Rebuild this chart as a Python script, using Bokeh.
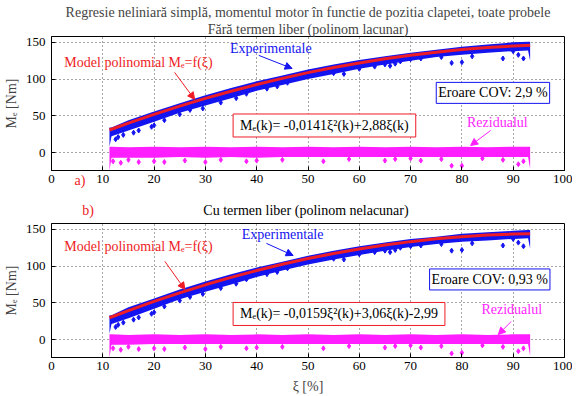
from bokeh.plotting import figure
from bokeh.layouts import column
from bokeh.models import (Label, Arrow, NormalHead, FixedTicker, Range1d, Title, Div)
from bokeh.embed import file_html
from bokeh.resources import INLINE

# ---------------- data ----------------
x_ticks = [0, 10, 20, 30, 40, 50, 60, 70, 80, 90, 100]
y_ticks = [0, 50, 100, 150]

# envelope of the experimental scatter band (xi [%])
band_x = [11.3, 11.7, 15, 20, 25, 30, 35, 40, 45, 50, 55, 60, 65, 70, 75, 80, 85, 90, 92.9, 93.3]

# plot a) (no free term)
exp_hi_a = [34, 34, 44, 56, 67, 78, 88, 97, 105, 113, 120, 126, 131, 136, 140, 144, 147, 150, 151, 151]
exp_lo_a = [8, 22, 30, 42, 54, 64, 74, 84, 92, 100, 107, 114, 120, 125, 130, 133, 136, 138, 139, 125]
res_hi_a = [8, 8, 7, 8, 7, 8, 7, 8, 7, 8, 7, 8, 7, 8, 7, 8, 7, 8, 8, 8]
res_lo_a = [-25, -7, -7, -7, -6, -7, -6, -7, -6, -6, -6, -6, -6, -6, -6, -6, -6, -6, -6, -22]
fit_x = [11.3, 15, 20, 25, 30, 35, 40, 45, 50, 55, 60, 65, 70, 75, 80, 85, 90, 93.3]
fit_a = [30.7, 40.0, 52.0, 63.2, 73.7, 83.5, 92.6, 101.0, 108.8, 115.7, 122.0, 127.6,
         132.5, 136.7, 140.2, 142.9, 145.0, 146.0]
out_x_a = [12.5, 13, 14, 16, 17, 19.5, 20, 22, 25, 27, 29.5, 33, 36, 38, 42, 44, 46, 55, 57,
           60, 63, 65, 66, 67, 68, 70, 72, 76, 78, 80, 82, 88, 90, 91, 92]
out_y_a = [18, 21, 24, 27, 30, 35, 37, 44, 52, 58, 60, 68, 74, 80, 87, 90, 95, 108, 107,
           114, 117, 120, 118, 121, 124, 127, 128, 130, 122, 123, 131, 128, 138, 133, 128]
rout_x_a = [12, 13.5, 15, 17, 20, 22, 26, 30, 33, 38, 40, 45, 53, 58, 65, 67, 70, 72, 76,
            78, 80, 84, 88, 91, 92]
rout_y_a = [-12, -14, -10, -13, -12, -13, -11, -13, -10, -12, -11, -10, -12, -9, -11, -9,
            -8, -11, -9, -18, -18, -8, -10, -16, -12]

# plot b) (with free term)
exp_hi_b = [33, 33, 44, 56, 68, 79, 89, 98, 106, 114, 121, 127, 132, 137, 140, 144, 146, 148, 149, 149]
exp_lo_b = [8, 21, 29, 42, 55, 65, 75, 85, 94, 102, 109, 115, 121, 126, 130, 133, 135, 137, 138, 124]
res_hi_b = [7, 7, 6, 7, 6, 7, 6, 7, 6, 7, 6, 7, 6, 7, 6, 7, 6, 7, 7, 7]
res_lo_b = [-25, -7, -7, -6, -6, -6, -6, -6, -6, -6, -6, -6, -6, -6, -6, -6, -6, -6, -6, -22]
fit_b = [29.6, 39.3, 51.9, 63.6, 74.5, 84.6, 94.0, 102.5, 110.3, 117.2, 123.4, 128.7,
         133.3, 137.1, 140.0, 142.2, 143.6, 144.1]
out_x_b = [12.5, 13, 14, 16, 17, 19.5, 20, 22, 25, 27, 29.5, 33, 36, 38, 42, 44, 46, 55, 57,
           60, 63, 65, 66, 67, 68, 70, 72, 76, 78, 80, 82, 88, 90, 91, 92]
out_y_b = [17, 20, 23, 27, 30, 35, 37, 45, 53, 58, 62, 70, 76, 82, 89, 92, 97, 110, 109,
           116, 119, 121, 119, 122, 125, 127, 128, 130, 121, 122, 131, 128, 137, 132, 127]
rout_x_b = [12, 13.5, 15, 17, 20, 22, 26, 30, 33, 38, 40, 45, 53, 58, 65, 67, 70, 72, 76,
            78, 80, 84, 88, 91, 92]
rout_y_b = [-12, -14, -10, -13, -12, -13, -11, -13, -10, -12, -11, -10, -12, -9, -11, -9,
            -8, -11, -9, -19, -18, -8, -10, -16, -12]

title_1 = "Regresie neliniară simplă, momentul motor în functie de pozitia clapetei, toate probele"
title_2 = "Fără termen liber (polinom lacunar)"
title_3 = "Cu termen liber (polinom nelacunar)"
tag_a = "a)"
tag_b = "b)"
eq_a = "Mₑ(k)= -0,0141ξ²(k)+2,88ξ(k)"
eq_b = "Mₑ(k)= -0,0159ξ²(k)+3,06ξ(k)-2,99"
cov_a = "Eroare COV: 2,9 %"
cov_b = "Eroare COV: 0,93 %"

FONT = "Liberation Serif"
FS = "14px"
BLUE = "#1414f0"
MAG = "#ff1eff"
RED = "#ee1c24"


def base_fig(height, top, bottom, xlabel):
    p = figure(width=572, height=height, output_backend="svg", toolbar_location=None,
               x_range=Range1d(0, 100), y_range=Range1d(-24.5, 158),
               min_border_left=44, min_border_right=8, min_border_top=top,
               min_border_bottom=bottom)
    p.title = None
    p.outline_line_color = "black"
    p.outline_line_width = 1
    p.background_fill_color = "white"
    for ax in list(p.xaxis) + list(p.yaxis):
        ax.major_tick_in = 4
        ax.major_tick_out = 0
        ax.minor_tick_line_color = None
        ax.axis_line_color = "black"
        ax.major_label_text_font = FONT
        ax.major_label_text_font_size = "13px"
        ax.major_label_text_color = "black"
        ax.axis_label_text_font = FONT
        ax.axis_label_text_font_size = FS
        ax.axis_label_text_font_style = "normal"
    p.xaxis.ticker = FixedTicker(ticks=x_ticks)
    p.yaxis.ticker = FixedTicker(ticks=y_ticks)
    p.xaxis.major_label_standoff = 4
    p.yaxis.major_label_standoff = 6
    p.yaxis.axis_label = "Mₑ [Nm]"
    p.yaxis.axis_label_standoff = 4
    if xlabel:
        p.xaxis.axis_label = xlabel
        p.xaxis.axis_label_standoff = 6
    for g in (p.xgrid, p.ygrid):
        g.grid_line_color = "black"
        g.grid_line_dash = "1 3"
        g.grid_line_alpha = 0.7
    p.xgrid[0].ticker = FixedTicker(ticks=x_ticks)
    p.ygrid[0].ticker = FixedTicker(ticks=y_ticks)
    return p


def draw(p, hi, lo, rhi, rlo, fit, ox, oy, rox, roy):
    p.varea(x=band_x, y1=rlo, y2=rhi, fill_color=MAG)
    p.scatter(x=rox, y=roy, marker="diamond", size=5, color=MAG)
    p.varea(x=band_x, y1=lo, y2=hi, fill_color=BLUE)
    p.scatter(x=ox, y=oy, marker="diamond", size=5, color=BLUE)
    p.line(x=fit_x, y=fit, line_color=RED, line_width=3)


def txt(p, x, y, text, color="black", align="left", **kw):
    lab = Label(x=x, y=y, text=text, text_font=FONT, text_font_size=FS,
                text_color=color, text_align=align, text_baseline="middle", **kw)
    p.add_layout(lab)


def arrow(p, x0, y0, x1, y1, color):
    p.add_layout(Arrow(x_start=x0, y_start=y0, x_end=x1, y_end=y1, line_color=color,
                       line_width=1,
                       end=NormalHead(size=7, fill_color=color, line_color=color)))


def title(p, text):
    p.add_layout(Title(text=text, align="center", text_font=FONT, text_font_size=FS,
                       text_font_style="normal", standoff=0, offset=-7), "above")


def span(text, cx, top, color):
    return (f'<span style="position:absolute;left:{cx}px;top:{top}px;'
            f'transform:translateX(-50%);white-space:nowrap;color:{color};">{text}</span>')


# ---------------- plot a ----------------
p1 = base_fig(196, 36, 26, None)
title(p1, title_2)
title(p1, title_1)
draw(p1, exp_hi_a, exp_lo_a, res_hi_a, res_lo_a, fit_a, out_x_a, out_y_a, rout_x_a, rout_y_a)
txt(p1, 34.8, 141.8, "Experimentale", color=BLUE)
arrow(p1, 40.4, 132.3, 46.9, 114.5, BLUE)
txt(p1, 2.5, 122.7, "Model polinomial Mₑ=f(ξ)", color=RED)
arrow(p1, 24.0, 109.1, 27.9, 72.3, RED)
txt(p1, 35.4, 36.8, eq_a, border_line_color=RED, background_fill_color="white",
    padding=(7, 4))
txt(p1, 75.0, 81.2, cov_a, border_line_color=BLUE, background_fill_color="white",
    padding=(2, 3))
txt(p1, 81.0, 40.9, "Rezidualul", color=MAG)
arrow(p1, 85.6, 30.0, 81.7, 9.5, MAG)

# ---------------- captions between the panels ----------------
cap_html = (f'<div style="position:relative;width:572px;height:22px;overflow:visible;'
            f'font-family:\'{FONT}\';font-size:{FS};line-height:16px;">'
            + span(tag_a, 80, -23, RED)
            + span(tag_b, 88, 7, RED)
            + span(title_3, 306, 7, "black")
            + '</div>')
caption = Div(text=cap_html, width=572, height=22, margin=(0, 0, 0, 0),
              styles={"overflow": "visible"})

# ---------------- plot b ----------------
p2 = base_fig(178, 5, 39, "ξ [%]")
draw(p2, exp_hi_b, exp_lo_b, res_hi_b, res_lo_b, fit_b, out_x_b, out_y_b, rout_x_b, rout_y_b)
txt(p2, 37.1, 142.5, "Experimentale", color=BLUE)
arrow(p2, 41.9, 130.9, 47.1, 114.5, BLUE)
txt(p2, 2.5, 126.8, "Model polinomial Mₑ=f(ξ)", color=RED)
arrow(p2, 22.1, 106.4, 26.0, 68.2, RED)
txt(p2, 35.4, 34.8, eq_b, border_line_color=RED, background_fill_color="white",
    padding=(7, 4))
txt(p2, 73.7, 81.8, cov_b, border_line_color=BLUE, background_fill_color="white",
    padding=(2, 3))
txt(p2, 83.8, 40.9, "Rezidualul", color=MAG)
arrow(p2, 89.6, 24.5, 87.1, 6.8, MAG)

layout = column(p1, caption, p2, spacing=0)
open("out.html", "w").write(file_html(layout, INLINE))
